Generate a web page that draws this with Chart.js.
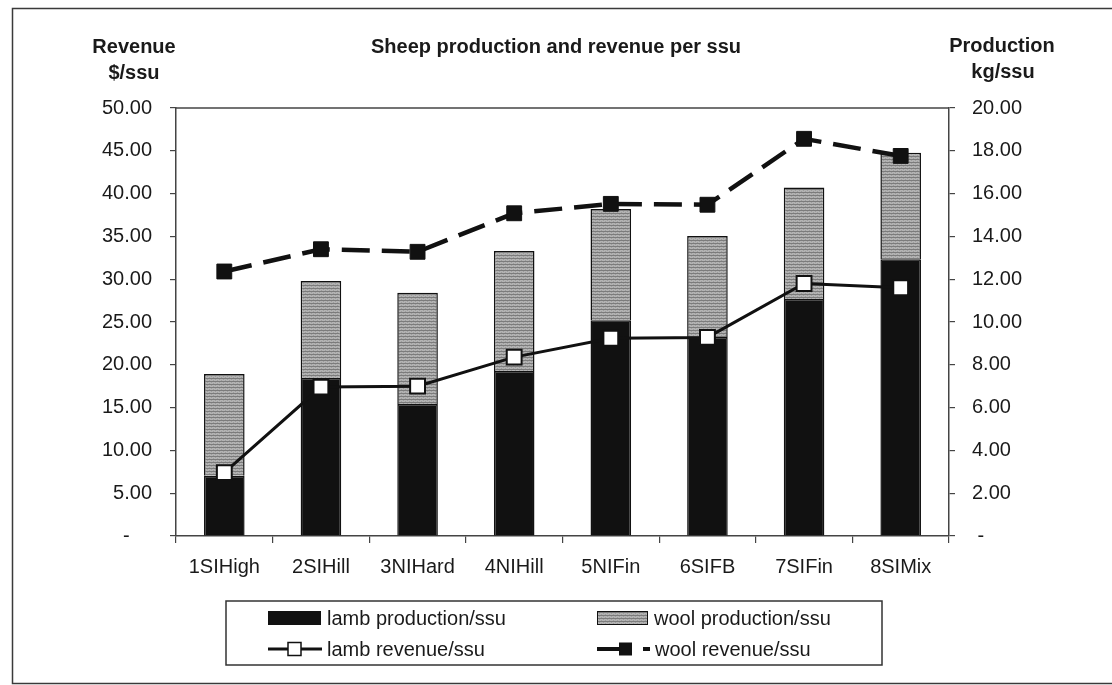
<!DOCTYPE html>
<html>
<head>
<meta charset="utf-8">
<title>Sheep production and revenue per ssu</title>
<script src="https://cdn.jsdelivr.net/npm/chart.js@4/dist/chart.umd.min.js"></script>
<style>
    html, body { margin: 0; padding: 0; background: #fff; }
    #wrap { position: relative; width: 1112px; height: 685px; }
</style>
</head>
<body>
<div id="wrap"><canvas id="mainChart" width="1112" height="685"></canvas></div>
<script>
// Farm classes
const farmClasses = ['1SIHigh', '2SIHill', '3NIHard', '4NIHill', '5NIFin', '6SIFB', '7SIFin', '8SIMix'];

// Production, kg/ssu (stacked bars, right axis)
const lambProduction = [2.82, 7.38, 6.17, 7.71, 10.08, 9.30, 11.07, 12.93];
const woolProduction = [4.75, 4.54, 5.20, 5.61, 5.20, 4.72, 5.21, 4.98];

// Revenue, $/ssu (lines, left axis)
const lambRevenue = [7.4, 17.4, 17.5, 20.9, 23.1, 23.2, 29.5, 29.0];
const woolRevenue = [30.9, 33.5, 33.2, 37.7, 38.8, 38.7, 46.4, 44.4];

// Axis ticks
const revenueTicks = { min: 0, max: 50, step: 5 };
const productionTicks = { min: 0, max: 20, step: 2 };

const FONT = '"Liberation Sans", Arial, Helvetica, sans-serif';
const INK = '#1a1a1a';

// Grey stippled fill for wool bars
function woolPattern() {
    const c = document.createElement('canvas');
    c.width = 4; c.height = 3;
    const g = c.getContext('2d');
    g.fillStyle = '#b3b3b3';
    g.fillRect(0, 0, 4, 3);
    g.fillStyle = '#7c7c7c';
    g.fillRect(0, 0, 4, 1);
    g.fillStyle = '#9c9c9c';
    g.fillRect(1, 2, 1, 1);
    g.fillRect(3, 1, 1, 1);
    return g.createPattern(c, 'repeat');
}

const ctx = document.getElementById('mainChart').getContext('2d');
const woolFill = woolPattern();

// Frame, plot box, headings and legend box
const decorations = {
    id: 'decorations',
    afterDraw(chart) {
        const c = chart.ctx;
        const a = chart.chartArea;
        c.save();

        // outer frame
        c.strokeStyle = '#3a3a3a';
        c.lineWidth = 1.5;
        c.strokeRect(12.5, 8.5, 1110, 675);

        // top edge of plot box
        c.strokeStyle = '#444';
        c.lineWidth = 1.5;
        c.beginPath();
        c.moveTo(a.left, a.top);
        c.lineTo(a.right, a.top);
        c.stroke();

        // headings
        c.fillStyle = INK;
        c.textBaseline = 'middle';
        c.font = `bold 20px ${FONT}`;
        c.textAlign = 'center';
        c.fillText('Revenue', 134, 47);
        c.fillText('$/ssu', 134, 73);
        c.fillText('Production', 1002, 46);
        c.fillText('kg/ssu', 1003, 72);
        c.textAlign = 'left';
        c.fillText('Sheep production and revenue per ssu', 371, 47);

        // legend
        c.strokeStyle = '#333';
        c.lineWidth = 1.5;
        c.strokeRect(226, 601, 656, 64);

        const ds = chart.data.datasets;
        const lambBar = ds[2], woolBar = ds[3], lambLine = ds[0], woolLine = ds[1];
        const r1 = 618, r2 = 649;

        c.lineWidth = 1;
        c.strokeStyle = '#111';
        c.fillStyle = lambBar.backgroundColor;
        c.fillRect(268, r1 - 7, 53, 14);
        c.fillStyle = woolBar.backgroundColor;
        c.fillRect(597, r1 - 7, 51, 14);
        c.strokeRect(597.5, r1 - 6.5, 50, 13);

        // lamb revenue swatch
        c.strokeStyle = lambLine.borderColor;
        c.lineWidth = 3;
        c.beginPath();
        c.moveTo(268, r2); c.lineTo(322, r2);
        c.stroke();
        c.fillStyle = lambLine.pointBackgroundColor;
        c.lineWidth = 1.5;
        c.fillRect(288, r2 - 6.5, 13, 13);
        c.strokeRect(288, r2 - 6.5, 13, 13);

        // wool revenue swatch
        c.strokeStyle = woolLine.borderColor;
        c.lineWidth = 4;
        c.beginPath();
        c.moveTo(597, r2); c.lineTo(621, r2);
        c.moveTo(643, r2); c.lineTo(650, r2);
        c.stroke();
        c.fillStyle = woolLine.pointBackgroundColor;
        c.fillRect(619, r2 - 6.5, 13, 13);

        c.fillStyle = INK;
        c.font = `20px ${FONT}`;
        c.textAlign = 'left';
        c.fillText(lambBar.label, 327, r1 + 1);
        c.fillText(woolBar.label, 654, r1 + 1);
        c.fillText(lambLine.label, 327, r2 + 1);
        c.fillText(woolLine.label, 655, r2 + 1);

        c.restore();
    }
};

new Chart(ctx, {
    data: {
        labels: farmClasses,
        datasets: [
            {
                type: 'line',
                label: 'lamb revenue/ssu',
                data: lambRevenue,
                yAxisID: 'y',
                order: 0,
                borderColor: '#111',
                borderWidth: 3,
                tension: 0,
                pointStyle: 'rect',
                pointRadius: 10.5,
                pointBackgroundColor: '#fff',
                pointBorderColor: '#111',
                pointBorderWidth: 2
            },
            {
                type: 'line',
                label: 'wool revenue/ssu',
                data: woolRevenue,
                yAxisID: 'y',
                order: 0,
                borderColor: '#111',
                borderWidth: 4.5,
                borderDash: [28, 12],
                tension: 0,
                pointStyle: 'rect',
                pointRadius: 10.5,
                pointBackgroundColor: '#111',
                pointBorderColor: '#111',
                pointBorderWidth: 1
            },
            {
                type: 'bar',
                label: 'lamb production/ssu',
                data: lambProduction,
                yAxisID: 'y1',
                stack: 'prod',
                order: 1,
                backgroundColor: '#111',
                borderColor: '#111',
                borderWidth: 1.5,
                categoryPercentage: 1,
                barPercentage: 0.42
            },
            {
                type: 'bar',
                label: 'wool production/ssu',
                data: woolProduction,
                yAxisID: 'y1',
                stack: 'prod',
                order: 1,
                backgroundColor: woolFill,
                borderColor: '#111',
                borderWidth: 1.5,
                categoryPercentage: 1,
                barPercentage: 0.42
            }
        ]
    },
    options: {
        responsive: false,
        animation: false,
        layout: { padding: { top: 108, left: 0, right: 0, bottom: 0 } },
        plugins: {
            legend: { display: false },
            tooltip: { enabled: false }
        },
        scales: {
            x: {
                stacked: true,
                offset: true,
                grid: { offset: true, drawOnChartArea: false, tickLength: 7, color: '#444', lineWidth: 1.2 },
                border: { color: '#444', width: 1.5 },
                ticks: { color: INK, font: { family: FONT, size: 20 }, padding: 12, maxRotation: 0 },
                afterFit: s => { s.height = 149; }
            },
            y: {
                position: 'left',
                min: revenueTicks.min,
                max: revenueTicks.max,
                grid: { drawOnChartArea: false, tickLength: 6, color: '#444', lineWidth: 1.2 },
                border: { color: '#444', width: 1.5 },
                ticks: {
                    stepSize: revenueTicks.step,
                    color: INK,
                    padding: 18,
                    font: { family: FONT, size: 20 },
                    callback: v => v === 0 ? '-    ' : v.toFixed(2)
                },
                afterFit: s => { s.width = 176; }
            },
            y1: {
                position: 'right',
                stacked: true,
                min: productionTicks.min,
                max: productionTicks.max,
                grid: { drawOnChartArea: false, tickLength: 6, color: '#444', lineWidth: 1.2 },
                border: { color: '#444', width: 1.5 },
                ticks: {
                    stepSize: productionTicks.step,
                    color: INK,
                    padding: 17,
                    font: { family: FONT, size: 20 },
                    callback: v => v === 0 ? ' -' : v.toFixed(2)
                },
                afterFit: s => { s.width = 163; }
            }
        }
    },
    plugins: [decorations]
});
</script>
</body>
</html>
